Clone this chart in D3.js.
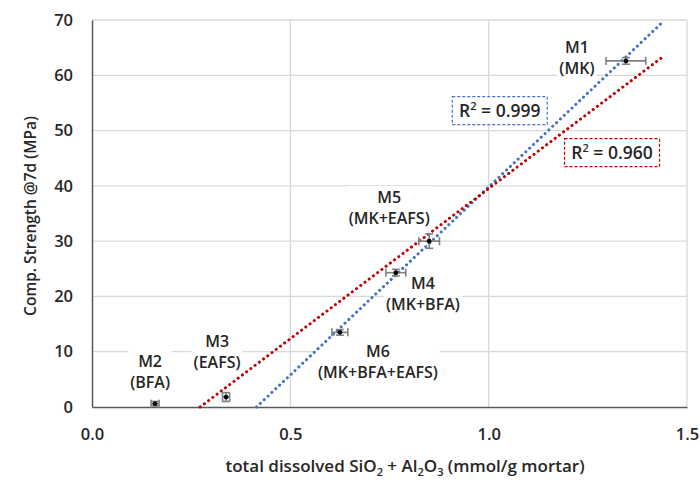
<!DOCTYPE html>
<html>
<head>
<meta charset="utf-8">
<script src="https://cdn.jsdelivr.net/npm/d3@7"></script>
<style>
  body { margin: 0; background: #fff; }
  text { font-family: "Open Sans", "Noto Sans", sans-serif; fill: #262626; font-weight: 600; }
</style>
</head>
<body>
<div id="chart"></div>
<script>
// mixes and measured values
var mixIds = ["M1", "M2", "M3", "M4", "M5", "M6"];
var mixNames = ["(MK)", "(BFA)", "(EAFS)", "(MK+BFA)", "(MK+EAFS)", "(MK+BFA+EAFS)"];
var dissolved = [1.346, 0.159, 0.338, 0.766, 0.850, 0.625];
var dissolvedErr = [0.050, 0.010, 0.009, 0.025, 0.026, 0.020];
var strength = [62.6, 0.6, 1.8, 24.3, 30.0, 13.5];
var strengthErr = [0.6, 0.4, 0.8, 0.6, 1.3, 0.5];

// linear trendlines (slope, intercept, x from, x to) and R^2
var trendSlope = [68.0, 54.3];
var trendIntercept = [-28.2, -14.8];
var trendFrom = [0.4147, 0.2726];
var trendTo = [1.44, 1.44];
var trendR2 = ["0.999", "0.960"];
var trendColor = ["#4472c4", "#c00000"];

var xTicks = [0, 0.5, 1.0, 1.5];
var yTicks = [0, 10, 20, 30, 40, 50, 60, 70];

// label offsets (px) from each point
var labelDx = [-49, -5, -9, 27, -40, 38];
var labelDy = [-3, -32, -45, 21, -33, 30];

var svgWidth = 700;
var svgHeight = 486;
var margin = { top: 20, right: 12, bottom: 79, left: 92 };
var width = svgWidth - margin.left - margin.right;
var height = svgHeight - margin.top - margin.bottom;

var svg = d3.select("#chart")
  .append("svg")
    .attr("width", svgWidth)
    .attr("height", svgHeight);
var g = svg.append("g")
  .attr("transform", `translate(${margin.left}, ${margin.top})`);

var x = d3.scaleLinear().domain([0, 1.5]).range([0, width - 1]);
var y = d3.scaleLinear().domain([0, 70]).range([height, 0]);

// grid
g.append("g").selectAll("line").data(yTicks.slice(1)).enter().append("line")
  .attr("x1", 0).attr("x2", x(1.5))
  .attr("y1", d => y(d)).attr("y2", d => y(d))
  .attr("stroke", "#d9d9d9").attr("stroke-width", 1.3);
g.append("g").selectAll("line").data(xTicks.slice(1)).enter().append("line")
  .attr("x1", d => x(d)).attr("x2", d => x(d))
  .attr("y1", 0).attr("y2", height)
  .attr("stroke", "#d9d9d9").attr("stroke-width", 1.3);

// axes
var bottomAxis = d3.axisBottom(x).tickValues(xTicks).tickFormat(d3.format(".1f")).tickSize(0).tickPadding(21);
var leftAxis = d3.axisLeft(y).tickValues(yTicks).tickSize(0).tickPadding(19);
var xg = g.append("g").attr("transform", `translate(0, ${height})`).call(bottomAxis);
var yg = g.append("g").call(leftAxis);
[xg, yg].forEach(a => {
  a.select(".domain").attr("stroke", "#595959").attr("stroke-width", 1.5);
  a.selectAll("text").attr("font-size", "16.5px").attr("fill", "#262626")
    .attr("font-family", "'Open Sans', sans-serif").attr("font-weight", 600);
});

// data labels (white boxes)
var pts = mixIds.map((id, i) => ({ id: id, name: mixNames[i], x: dissolved[i], y: strength[i],
  ex: dissolvedErr[i], ey: strengthErr[i], dx: labelDx[i], dy: labelDy[i] }));

var labels = g.append("g").selectAll("g").data(pts).enter().append("g")
  .attr("transform", d => `translate(${x(d.x) + d.dx}, ${y(d.y) + d.dy})`);
labels.append("text").attr("text-anchor", "middle").attr("y", -5)
  .attr("font-size", "16px").text(d => d.id);
labels.append("text").attr("text-anchor", "middle").attr("y", 16)
  .attr("font-size", "16px").text(d => d.name);
labels.each(function() {
  var b = this.getBBox();
  d3.select(this).insert("rect", "text")
    .attr("x", b.x - 2).attr("y", b.y).attr("width", b.width + 4).attr("height", b.height)
    .attr("fill", "#fff");
});

// trendlines
trendSlope.forEach((s, i) => {
  var xs = [trendFrom[i], trendTo[i]];
  g.append("line")
    .attr("x1", x(xs[0])).attr("y1", y(s * xs[0] + trendIntercept[i]))
    .attr("x2", x(xs[1])).attr("y2", y(s * xs[1] + trendIntercept[i]))
    .attr("stroke", trendColor[i]).attr("stroke-width", 3)
    .attr("stroke-linecap", "round").attr("stroke-dasharray", "0.1 5.2");
});

// error bars
var eb = g.append("g").attr("stroke", "#7f7f7f").attr("stroke-width", 1.6);
pts.forEach(d => {
  var cx = x(d.x), cy = y(d.y);
  var x0 = x(d.x - d.ex), x1 = x(d.x + d.ex), y0 = y(d.y - d.ey), y1 = y(d.y + d.ey);
  eb.append("line").attr("x1", x0).attr("x2", x1).attr("y1", cy).attr("y2", cy);
  eb.append("line").attr("x1", x0).attr("x2", x0).attr("y1", cy - 4).attr("y2", cy + 4);
  eb.append("line").attr("x1", x1).attr("x2", x1).attr("y1", cy - 4).attr("y2", cy + 4);
  eb.append("line").attr("x1", cx).attr("x2", cx).attr("y1", y0).attr("y2", y1);
  eb.append("line").attr("x1", cx - 4).attr("x2", cx + 4).attr("y1", y0).attr("y2", y0);
  eb.append("line").attr("x1", cx - 4).attr("x2", cx + 4).attr("y1", y1).attr("y2", y1);
});

// points
g.append("g").selectAll("circle").data(pts).enter().append("circle")
  .attr("cx", d => x(d.x)).attr("cy", d => y(d.y)).attr("r", 2.4)
  .attr("fill", "#000");

// R^2 boxes
var r2Pos = [[1.028, 53.6], [1.311, 46.0]];
trendR2.forEach((r, i) => {
  var t = g.append("g").attr("transform", `translate(${x(r2Pos[i][0])}, ${y(r2Pos[i][1])})`);
  var txt = t.append("text").attr("text-anchor", "middle").attr("y", 6)
    .attr("font-size", "17.5px");
  txt.append("tspan").text("R");
  txt.append("tspan").attr("dy", -7).attr("font-size", "11px").text("2");
  txt.append("tspan").attr("dy", 7).text(" = " + r);
  t.insert("rect", "text")
    .attr("x", -47.5).attr("y", -14).attr("width", 95).attr("height", 28)
    .attr("fill", "#fff").attr("stroke", trendColor[i]).attr("stroke-width", 1.2)
    .attr("stroke-dasharray", "3 2");
});

// axis titles
svg.append("text")
  .attr("transform", "rotate(-90)")
  .attr("x", -216).attr("y", 36)
  .attr("text-anchor", "middle").attr("font-size", "15.5px")
  .text("Comp. Strength @7d (MPa)");
var xt = svg.append("text")
  .attr("x", 405).attr("y", 472)
  .attr("text-anchor", "middle").attr("font-size", "17px");
xt.append("tspan").text("total dissolved SiO");
xt.append("tspan").attr("dy", 4).attr("font-size", "11px").text("2");
xt.append("tspan").attr("dy", -4).text(" + Al");
xt.append("tspan").attr("dy", 4).attr("font-size", "11px").text("2");
xt.append("tspan").attr("dy", -4).text("O");
xt.append("tspan").attr("dy", 4).attr("font-size", "11px").text("3");
xt.append("tspan").attr("dy", -4).text(" (mmol/g mortar)");
</script>
</body>
</html>
